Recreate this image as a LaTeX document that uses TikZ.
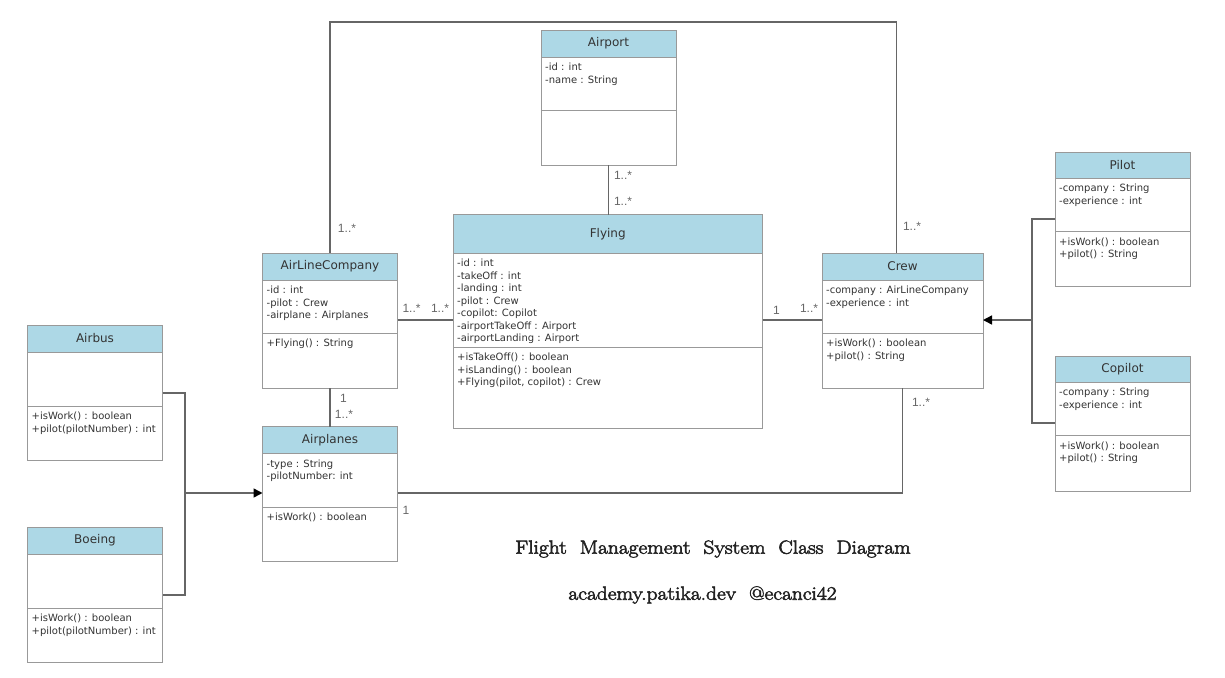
\documentclass[tikz,border=0pt]{standalone}
\usepackage{fontspec}
\newfontfamily\boxfont{DejaVu Sans}
\newfontfamily\labelfont{Liberation Sans}
\newfontfamily\captionfont[FakeBold=3,FakeStretch=1.13]{Latin Modern Roman}
\usepackage{tikz}
\usetikzlibrary{positioning,arrows.meta,calc}
\definecolor{headblue}{HTML}{ADD8E6}
\definecolor{boxline}{HTML}{999999}
\definecolor{linegray}{HTML}{666666}
\definecolor{ink}{HTML}{333333}
\definecolor{deepink}{HTML}{222222}

\begin{document}
\begin{tikzpicture}[x=1pt,y=-1pt,
    head/.style={draw=boxline, fill=headblue, outer sep=0pt, minimum width=135pt,
      minimum height=27pt, text=ink, font=\boxfont\fontsize{12}{14}\selectfont},
    part/.style={draw=boxline, fill=white, outer sep=0pt, minimum width=135pt, minimum height=54pt},
    members/.style={anchor=north west, align=left, inner xsep=4pt, inner ysep=6pt,
      text=ink, font=\boxfont\fontsize{10}{12.5}\selectfont},
    mult/.style={text=linegray, inner sep=0pt, font=\labelfont\fontsize{12}{14}\selectfont},
    assoc/.style={draw=linegray, line width=1.5pt},
    inherit/.style={assoc, -{Triangle[length=9pt,width=9pt,color=black]}}]
  \useasboundingbox (0,0) rectangle (1225,677);
  \coordinate (toprow) at (0,22);
  \coordinate (midrow) at (0,320);
  \coordinate (lowrow) at (0,493);

  % classes
  \node[head, anchor=north west] (airport) at (541,30) {Airport};
  \node[part, minimum height=53pt, below=0pt of airport] (airport-a) {};
  \node[part, minimum height=55pt, below=0pt of airport-a] (airport-m) {};
  \node[members] at (airport-a.north west) {-id : int\\-name : String};

  \node[head, minimum width=309.5pt, minimum height=38.5pt, anchor=north west] (flying) at (453,214.5) {Flying};
  \node[part, minimum width=309.5pt, minimum height=94pt, below=0pt of flying] (flying-a) {};
  \node[part, minimum width=309.5pt, minimum height=81pt, below=0pt of flying-a] (flying-m) {};
  \node[members] at (flying-a.north west) {-id : int\\-takeOff : int\\-landing : int\\-pilot : Crew\\-copilot: Copilot\\-airportTakeOff : Airport\\-airportLanding : Airport};
  \node[members] at (flying-m.north west) {+isTakeOff() : boolean\\+isLanding() : boolean\\+Flying(pilot, copilot) : Crew};

  \node[head, anchor=north west] (airline) at (262.5,253) {AirLineCompany};
  \node[part, minimum height=53pt, below=0pt of airline] (airline-a) {};
  \node[part, minimum height=55pt, below=0pt of airline-a] (airline-m) {};
  \node[members] at (airline-a.north west) {-id : int\\-pilot : Crew\\-airplane : Airplanes};
  \node[members] at (airline-m.north west) {+Flying() : String};

  \node[head, minimum width=161pt, anchor=north west] (crew) at (822,253) {Crew};
  \node[part, minimum width=161pt, minimum height=53pt, below=0pt of crew] (crew-a) {};
  \node[part, minimum width=161pt, minimum height=55pt, below=0pt of crew-a] (crew-m) {};
  \node[members] at (crew-a.north west) {-company : AirLineCompany\\-experience : int};
  \node[members] at (crew-m.north west) {+isWork() : boolean\\+pilot() : String};

  \node[head, anchor=north west] (airplanes) at (262.5,426.5) {Airplanes};
  \node[part, minimum height=53.5pt, below=0pt of airplanes] (airplanes-a) {};
  \node[part, below=0pt of airplanes-a] (airplanes-m) {};
  \node[members] at (airplanes-a.north west) {-type : String\\-pilotNumber: int};
  \node[members] at (airplanes-m.north west) {+isWork() : boolean};

  \node[head, anchor=north west] (airbus) at (27.5,325) {Airbus};
  \node[part, below=0pt of airbus] (airbus-a) {};
  \node[part, below=0pt of airbus-a] (airbus-m) {};
  \node[members] at (airbus-m.north west) {+isWork() : boolean\\+pilot(pilotNumber) : int};

  \node[head, anchor=north west] (boeing) at (27.5,527) {Boeing};
  \node[part, below=0pt of boeing] (boeing-a) {};
  \node[part, below=0pt of boeing-a] (boeing-m) {};
  \node[members] at (boeing-m.north west) {+isWork() : boolean\\+pilot(pilotNumber) : int};

  \node[head, minimum height=26pt, anchor=north west] (pilot) at (1055,152) {Pilot};
  \node[part, minimum height=53.5pt, below=0pt of pilot] (pilot-a) {};
  \node[part, minimum height=54.5pt, below=0pt of pilot-a] (pilot-m) {};
  \node[members] at (pilot-a.north west) {-company : String\\-experience : int};
  \node[members] at (pilot-m.north west) {+isWork() : boolean\\+pilot() : String};

  \node[head, minimum height=26pt, anchor=north west] (copilot) at (1055,356) {Copilot};
  \node[part, minimum height=53.5pt, below=0pt of copilot] (copilot-a) {};
  \node[part, minimum height=55.5pt, below=0pt of copilot-a] (copilot-m) {};
  \node[members] at (copilot-a.north west) {-company : String\\-experience : int};
  \node[members] at (copilot-m.north west) {+isWork() : boolean\\+pilot() : String};

  % associations
  \draw[assoc] (airport-m.south) -- (airport-m.south |- flying.north);
  \draw[assoc] (airline.north) -- (airline.north |- toprow) -| ([xshift=-6pt]crew.north);
  \draw[assoc] (airline-a.east |- midrow) -- (flying-a.west |- midrow);
  \draw[assoc] (flying-a.east |- midrow) -- (crew-a.west |- midrow);
  \draw[assoc] (airline-m.south) -- (airplanes.north);
  \draw[assoc] (airplanes-a.east |- lowrow) -| (crew-m.south);

  % generalizations
  \coordinate (planejoint) at (185,493);
  \draw[assoc] ([yshift=-14pt]airbus-a.east) -| (planejoint) |- ([yshift=-14pt]boeing-a.east);
  \draw[inherit] (planejoint) -- (airplanes-a.west |- planejoint);
  \coordinate (crewjoint) at (1032,320);
  \draw[assoc] ([yshift=-14pt]pilot-a.west) -| (crewjoint) |- ([yshift=-14pt]copilot-a.west);
  \draw[inherit] (crewjoint) -- (crew-a.east |- crewjoint);

  % multiplicities
  \node[mult] (m-port) at (623,175.5) {1..*};
  \node[mult] (m-fly-port) at (623,201.5) {1..*};
  \node[mult] (m-line-top) at (347,228.5) {1..*};
  \node[mult] (m-crew-top) at (912,226) {1..*};
  \node[mult] (m-line-fly) at (411.5,308.5) {1..*};
  \node[mult] (m-fly-line) at (440,308.5) {1..*};
  \node[mult] (m-fly-crew) at (776.5,310.5) {1};
  \node[mult] (m-crew-fly) at (809,308) {1..*};
  \node[mult] (m-line-plane) at (343.5,398) {1};
  \node[mult] (m-plane-line) at (344,414) {1..*};
  \node[mult] (m-plane-crew) at (406,510) {1};
  \node[mult] (m-crew-plane) at (921,402) {1..*};

  % caption
  \node[text=deepink, font=\captionfont\fontsize{19}{22}\selectfont] (caption) at (713,549)
    {Flight\ \ Management\ \ System\ \ Class\ \ Diagram};
  \node[text=deepink, font=\captionfont\fontsize{19}{22}\selectfont] (credit) at (702.5,595)
    {academy.patika.dev\ \ @ecanci42};
\end{tikzpicture}
\end{document}
